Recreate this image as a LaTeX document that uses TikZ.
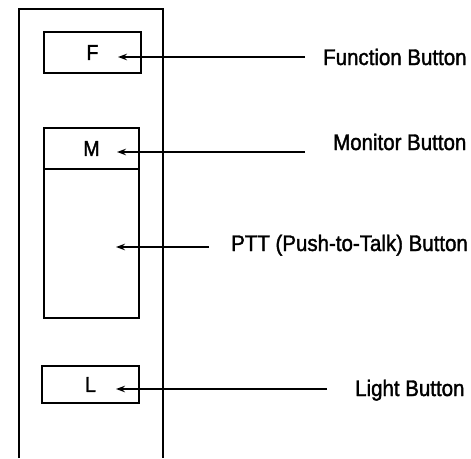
\documentclass[tikz,border=0pt]{standalone}
\usepackage{fontspec}
\setmainfont{Liberation Sans}[FakeStretch=0.91, FakeBold=1.6]
\usetikzlibrary{arrows.meta,positioning}

\begin{document}
\begin{tikzpicture}[x=1pt,y=-1pt,
    button/.style={draw, line width=2pt, inner sep=0pt, outer sep=0pt, font=\fontsize{21.5}{24}\selectfont},
    lbl/.style={anchor=west, inner sep=0pt, text height=16pt, text depth=0pt, font=\fontsize{22.5}{26}\selectfont},
    pointer/.style={-{Stealth[length=9pt,width=6.5pt]}, line width=1.7pt}]
        \useasboundingbox (0,0) rectangle (471,458);
        % Radio body (open at the bottom)
        \draw[line width=2.6pt] (19,458) -- (19,9) -- (163,9) -- (163,458);
        % Buttons
        \node[button, minimum width=97pt, minimum height=41pt] (btnF) at (92.5,52.5) {F};
        \node[button, minimum width=95pt, minimum height=41pt] (btnM) at (91.5,148.5) {M};
        \node[button, minimum width=95pt, minimum height=149pt, below=0pt of btnM] (btnPTT) {};
        \node[button, minimum width=97pt, minimum height=37pt] (btnL) at (90.5,384.5) {L};
        % Arrow tips inside the buttons
        \coordinate (tipF) at (118,57);
        \coordinate (tipM) at (117,152);
        \coordinate (tipPTT) at (116,247);
        \coordinate (tipL) at (116,389);
        % Labels
        \node[lbl] (lblF) at (323,57) {Function Button};
        \node[lbl] (lblM) at (333,142) {Monitor Button};
        \node[lbl] (lblPTT) at (231,243) {PTT (Push-to-Talk) Button};
        \node[lbl] (lblL) at (355,388) {Light Button};
        % Pointers
        \draw[pointer, shorten <=18pt] (lblF.west) -- (tipF);
        \draw[pointer, shorten <=28pt] (lblM.west |- tipM) -- (tipM);
        \draw[pointer, shorten <=22pt] (lblPTT.west |- tipPTT) -- (tipPTT);
        \draw[pointer, shorten <=28pt] (lblL.west |- tipL) -- (tipL);
\end{tikzpicture}
\end{document}
